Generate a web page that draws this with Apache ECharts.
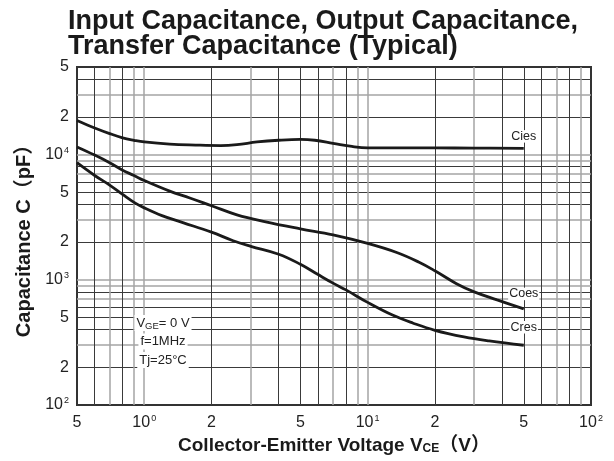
<!DOCTYPE html>
<html>
<head>
<meta charset="utf-8">
<script src="https://cdn.jsdelivr.net/npm/echarts@6/dist/echarts.min.js"></script>
<style>html,body{margin:0;padding:0;background:#fff;}#c{width:614px;height:461px;}</style>
</head>
<body>
<div id="c"></div>
<script>
// ---- tick labels ----
const xTickValues = [0.5, 1, 2, 5, 10, 20, 50, 100];
const xTickLabels = ['5', '10^0', '2', '5', '10^1', '2', '5', '10^2'];
const yTickValues = [100, 200, 500, 1000, 2000, 5000, 10000, 20000, 50000];
const yTickLabels = ['10^2', '2', '5', '10^3', '2', '5', '10^4', '2', '5'];
// grid lines (dark and light)
const xDarkGrid = [0.6, 0.8, 2, 4, 5, 6, 8, 20, 40, 50, 60, 80];
const xGrayGrid = [0.7, 0.9, 1, 3, 7, 9, 10, 30, 70, 90];
const yDarkGrid = [200, 400, 500, 600, 800, 2000, 4000, 5000, 6000, 8000, 20000, 40000];
const yGrayGrid = [300, 700, 900, 1000, 3000, 7000, 9000, 10000, 30000];

// ---- series ----
const ciesV = [0.5, 0.6, 0.7, 0.8, 0.9, 1.0, 1.3, 1.7, 2.2, 2.6, 3.2, 4.0, 5.0, 5.8, 7.0, 8.5, 10, 15, 20, 30, 50];
const ciesC = [18700, 16300, 14700, 13600, 13000, 12600, 12100, 11900, 11800, 12000, 12600, 13000, 13200, 13000, 12300, 11600, 11300, 11300, 11300, 11250, 11200];
const coesV = [0.5, 0.6, 0.7, 0.8, 0.9, 1.0, 1.3, 1.6, 2.0, 2.6, 3.5, 5, 7, 10, 13.5, 17, 20, 25, 30, 38, 50];
const coesC = [11500, 9900, 8600, 7500, 6800, 6200, 5100, 4500, 3900, 3300, 2900, 2550, 2280, 1950, 1650, 1380, 1180, 930, 800, 690, 585];
const cresV = [0.5, 0.6, 0.7, 0.8, 0.9, 1.0, 1.2, 1.5, 2.0, 2.5, 3.0, 4.0, 5.0, 6.0, 7.0, 8.0, 10, 13, 16, 20, 27, 35, 50];
const cresC = [8600, 6800, 5700, 4800, 4150, 3750, 3250, 2850, 2400, 2050, 1850, 1600, 1330, 1100, 940, 830, 660, 520, 450, 395, 350, 325, 300];
const seriesNames = ['Cies', 'Coes', 'Cres'];
const conditionLines = ['V{s|GE}= 0 V', 'f=1MHz', 'Tj=25°C'];

const FONT = '"Liberation Sans", Arial, "Noto Sans CJK JP", sans-serif';
const lg = Math.log10;

function richLabel(s) {
  if (s.indexOf('^') >= 0) {
    const p = s.split('^');
    return '{b|' + p[0] + '}{s|' + p[1] + '}';
  }
  return '{b|' + s + '}';
}
function lookup(vals, labels, v) {
  for (let i = 0; i < vals.length; i++) {
    if (Math.abs(lg(vals[i]) - v) < 1e-6) return richLabel(labels[i]);
  }
  return '';
}
const tickRich = {
  b: { fontSize: 16, color: '#222', fontFamily: FONT, lineHeight: 18 },
  s: { fontSize: 9, color: '#222', fontFamily: FONT, verticalAlign: 'top', lineHeight: 18, padding: [0, 0, 7, 1] }
};

function pairs(vs, cs) { return vs.map((v, i) => [v, cs[i]]); }
function endLbl(name, dy) {
  return {
    show: true, formatter: name, align: 'center', verticalAlign: 'middle', distance: 0,
    offset: [0, dy], fontSize: 12.5, color: '#222', fontFamily: FONT,
    backgroundColor: '#fff', padding: [0, 1, 0, 1]
  };
}

const xMinL = lg(xTickValues[0]), xMaxL = lg(xTickValues[xTickValues.length - 1]);
const yMinL = lg(yTickValues[0]), yMaxL = lg(yTickValues[yTickValues.length - 1]);

function gridAxis(dim, vals, color, width) {
  return {
    type: 'value',
    min: dim === 'x' ? xMinL : yMinL,
    max: dim === 'x' ? xMaxL : yMaxL,
    position: dim === 'x' ? 'bottom' : 'left',
    axisLine: { show: false },
    axisTick: { show: false, customValues: vals.map(lg) },
    axisLabel: { show: false },
    splitLine: { show: true, lineStyle: { color: color, width: width } }
  };
}

const condGraphics = conditionLines.map((t, i) => ({
  type: 'text', x: 163, y: 323 + i * 18.5, z: 50,
  style: {
    text: '{a|' + t.replace('V{s|GE}', 'V}{s|GE}{a|') + '}',
    align: 'center', verticalAlign: 'middle',
    backgroundColor: '#fff', padding: [0, 2, 0, 2],
    rich: {
      a: { fontSize: 13, fontFamily: FONT, fill: '#222', lineHeight: 16 },
      s: { fontSize: 9.5, fontFamily: FONT, fill: '#222', lineHeight: 16, verticalAlign: 'bottom', padding: [3, 0, 0, 0] }
    }
  }
}));

const chart = echarts.init(document.getElementById('c'), null, { renderer: 'canvas' });
const lineStyle = { color: '#1a1a1a', width: 2.8 };
const option = {
  animation: false,
  backgroundColor: '#fff',
  title: {
    text: 'Input Capacitance, Output Capacitance,\nTransfer Capacitance (Typical)',
    left: 63, top: 4,
    textStyle: { fontFamily: FONT, fontSize: 27, fontWeight: 'bold', color: '#1a1a1a', lineHeight: 25 }
  },
  grid: { left: 77, right: 23, top: 67, bottom: 56, show: true, borderColor: '#333', borderWidth: 2, backgroundColor: 'transparent' },
  xAxis: [
    { type: 'log', logBase: 10, min: xTickValues[0], max: xTickValues[xTickValues.length - 1], show: false },
    {
      type: 'value', min: xMinL, max: xMaxL, position: 'bottom',
      axisLine: { show: false },
      axisTick: { show: false, customValues: xDarkGrid.map(lg) },
      splitLine: { show: true, lineStyle: { color: '#3a3a3a', width: 1 } },
      axisLabel: {
        customValues: xTickValues.map(lg), margin: 9,
        formatter: v => lookup(xTickValues, xTickLabels, v), rich: tickRich
      },
      name: 'Collector-Emitter Voltage V{s|CE}（V）',
      nameLocation: 'middle', nameGap: 26,
      nameTextStyle: {
        fontFamily: FONT, fontSize: 19, fontWeight: 'bold', color: '#1a1a1a',
        rich: { s: { fontFamily: FONT, fontSize: 12, fontWeight: 'bold', color: '#1a1a1a', verticalAlign: 'bottom', padding: [5, 0, 0, 0] } }
      }
    },
    gridAxis('x', xGrayGrid, '#a5a5a5', 1.5)
  ],
  yAxis: [
    { type: 'log', logBase: 10, min: yTickValues[0], max: yTickValues[yTickValues.length - 1], show: false },
    {
      type: 'value', min: yMinL, max: yMaxL, position: 'left',
      axisLine: { show: false },
      axisTick: { show: false, customValues: yDarkGrid.map(lg) },
      splitLine: { show: true, lineStyle: { color: '#3a3a3a', width: 1 } },
      axisLabel: {
        customValues: yTickValues.map(lg), margin: 8,
        formatter: v => lookup(yTickValues, yTickLabels, v), rich: tickRich
      },
      name: 'Capacitance C（pF）',
      nameLocation: 'middle', nameGap: 37, nameRotate: 90,
      nameTextStyle: { fontFamily: FONT, fontSize: 20, fontWeight: 'bold', color: '#1a1a1a' }
    },
    gridAxis('y', yGrayGrid, '#a5a5a5', 1.5)
  ],
  graphic: condGraphics,
  series: [
    { name: seriesNames[0], type: 'line', xAxisIndex: 0, yAxisIndex: 0, data: pairs(ciesV, ciesC), smooth: 0.4, symbol: 'none', lineStyle: lineStyle, endLabel: endLbl(seriesNames[0], -12), z: 5 },
    { name: seriesNames[1], type: 'line', xAxisIndex: 0, yAxisIndex: 0, data: pairs(coesV, coesC), smooth: 0.4, symbol: 'none', lineStyle: lineStyle, endLabel: endLbl(seriesNames[1], -15), z: 5 },
    { name: seriesNames[2], type: 'line', xAxisIndex: 0, yAxisIndex: 0, data: pairs(cresV, cresC), smooth: 0.4, symbol: 'none', lineStyle: lineStyle, endLabel: endLbl(seriesNames[2], -18), z: 5 }
  ]
};
chart.setOption(option);
</script>
</body>
</html>
